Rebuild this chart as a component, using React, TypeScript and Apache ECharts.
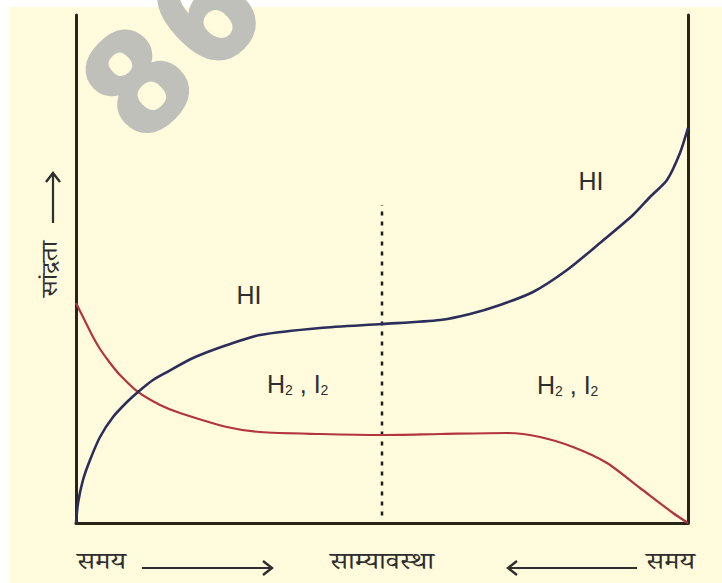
import React, { useEffect, useRef } from "react";
import * as echarts from "echarts";

// HI concentration vs time (x: 0..100 time, 50 = equilibrium; y: 0..100 concentration)
const hiData: [number, number][] = [
  [0, 0], [0.33, 3.94], [1.14, 8.46], [2.29, 12.4], [3.92, 16.93], [6.05, 20.87],
  [8.33, 23.82], [10.13, 25.79], [12.58, 28.15], [14.87, 29.72], [19.12, 32.48],
  [24.67, 35.04], [30.07, 37.01], [39.87, 38.39], [50, 39.17], [59.48, 39.96],
  [64.38, 41.14], [69.28, 42.91], [74.67, 45.47], [80.23, 49.8], [85.62, 55.12],
  [91.01, 60.63], [93.79, 64.17], [96.57, 67.52], [98.69, 72.83], [100, 77.76],
];
// H2 , I2 concentration vs time
const h2i2Data: [number, number][] = [
  [0, 43.31], [1.47, 39.76], [2.78, 36.61], [3.92, 34.25], [5.56, 31.5], [7.19, 29.13],
  [10.13, 25.79], [13.73, 23.23], [16.99, 21.65], [24.67, 18.9], [30.07, 17.91],
  [39.87, 17.52], [50, 17.32], [59.48, 17.52], [70.42, 17.72], [75.82, 16.93],
  [81.21, 14.96], [86.76, 11.81], [92.16, 6.89], [97.55, 1.97], [100, 0],
];
const equilibriumLine: [number, number][] = [[50, 1.5], [50, 62.6]];

const bottomLabels = ["समय", "साम्यावस्था", "समय"];
const yAxisTitle = "सांद्रता";
const hiLabel = "HI";
const watermarkDigits = ["8", "6", "0"];

const DEVA = "'Noto Serif Devanagari', 'FreeSerif', 'Lohit Devanagari', 'Noto Sans Devanagari', 'Mangal', serif";
const LAT = "'Liberation Sans', Arial, sans-serif";
const AXIS = "#2a2417";
const TXT = "#2e2e2e";

function arrow(x1: number, x2: number, y: number, dir: 1 | -1, vertical = false) {
  const head = 9;
  const half = 7;
  if (!vertical) {
    const tip = dir === 1 ? x2 : x1;
    return [
      { type: "line", shape: { x1, y1: y, x2, y2: y }, style: { stroke: TXT, lineWidth: 2.2 } },
      {
        type: "polyline",
        shape: { points: [[tip - dir * head, y - half], [tip, y], [tip - dir * head, y + half]] },
        style: { stroke: TXT, lineWidth: 2.4, fill: null },
      },
    ];
  }
  const x = y;
  return [
    { type: "line", shape: { x1: x, y1: x1, x2: x, y2: x2 }, style: { stroke: TXT, lineWidth: 2.2 } },
    {
      type: "polyline",
      shape: { points: [[x - half, x1 + head], [x, x1], [x + half, x1 + head]] },
      style: { stroke: TXT, lineWidth: 2.4, fill: null },
    },
  ];
}

export default function App() {
  const ref = useRef<HTMLDivElement>(null);
  useEffect(() => {
    if (!ref.current) return;
    const chart = echarts.init(ref.current, undefined, { renderer: "svg" });
    const rich = {
      a: { fontSize: 25, fontFamily: LAT, fill: TXT, color: TXT, lineHeight: 26 },
      b: { fontSize: 14, fontFamily: LAT, fill: TXT, color: TXT, lineHeight: 6, verticalAlign: "bottom" },
    };
    const h2i2Text = "{a|H}{b|2}{a| , I}{b|2}";
    const devaText = (text: string, x: number, align: string) => ({
      type: "text", x, y: 565, scaleX: 1.16,
      style: { text, font: `24px ${DEVA}`, lineHeight: 24, fill: TXT, align, verticalAlign: "middle" },
    });
    const option: any = {
      animation: false,
      backgroundColor: "#ffffff",
      grid: { left: 76, right: 34, top: 15, bottom: 60 },
      xAxis: {
        type: "value", min: 0, max: 100,
        axisLine: { show: true, lineStyle: { color: AXIS, width: 3 } },
        axisTick: { show: false }, axisLabel: { show: false }, splitLine: { show: false },
      },
      yAxis: [
        {
          type: "value", min: 0, max: 100, position: "left",
          axisLine: { show: true, onZero: false, lineStyle: { color: AXIS, width: 3 } },
          axisTick: { show: false }, axisLabel: { show: false }, splitLine: { show: false },
        },
        {
          type: "value", min: 0, max: 100, position: "right",
          axisLine: { show: true, onZero: false, lineStyle: { color: AXIS, width: 3 } },
          axisTick: { show: false }, axisLabel: { show: false }, splitLine: { show: false },
        },
      ],
      series: [
        {
          type: "line", data: equilibriumLine, symbol: "none", silent: true,
          lineStyle: { color: "#1c1c1c", width: 2.5, type: [4, 6] },
        },
        {
          name: "H2, I2", type: "line", data: h2i2Data, symbol: "none", smooth: 0.25,
          lineStyle: { color: "#b1343f", width: 2.2 },
        },
        {
          name: "HI", type: "line", data: hiData, symbol: "none", smooth: 0.25,
          lineStyle: { color: "#2b2e5a", width: 2.6 },
        },
      ],
      graphic: [
        { type: "rect", z: -100, silent: true, shape: { x: 10, y: 7, width: 712, height: 576 }, style: { fill: "#fffbdc" } },
        // curve labels
        { type: "text", x: 249, y: 295, style: { text: hiLabel, font: `25px ${LAT}`, fill: TXT, align: "center", verticalAlign: "middle" } },
        { type: "text", x: 591, y: 181, style: { text: hiLabel, font: `25px ${LAT}`, fill: TXT, align: "center", verticalAlign: "middle" } },
        { type: "text", x: 267, y: 384, style: { text: h2i2Text, rich, align: "left", verticalAlign: "middle" } },
        { type: "text", x: 537, y: 385, style: { text: h2i2Text, rich, align: "left", verticalAlign: "middle" } },
        // bottom labels
        devaText(bottomLabels[0], 77, "left"),
        ...arrow(142, 272, 568, 1),
        devaText(bottomLabels[1], 382, "center"),
        ...arrow(508, 637, 568, -1),
        devaText(bottomLabels[2], 695, "right"),
        // y-axis title
        {
          type: "text", x: 53, y: 269, rotation: Math.PI / 2, scaleX: 1.2,
          style: { text: yAxisTitle, font: `22px ${DEVA}`, fill: TXT, align: "center", verticalAlign: "middle" },
        },
        ...arrow(173, 223, 53, 1, true),
        // watermark
        ...watermarkDigits.map((d, i) => ({
          type: "text", z: 50, silent: true,
          x: 137 + i * 68, y: 81 - i * 69, rotation: Math.PI / 4,
          style: {
            text: d, font: `bold 145px ${LAT}`, fill: "#c0c0bb",
            stroke: "#c0c0bb", lineWidth: 5, align: "center", verticalAlign: "middle",
          },
        })),
      ],
    };
    chart.setOption(option);
    return () => chart.dispose();
  }, []);
  return <div ref={ref} style={{ position: "fixed", left: 0, top: 0, width: 722, height: 583 }} />;
}
